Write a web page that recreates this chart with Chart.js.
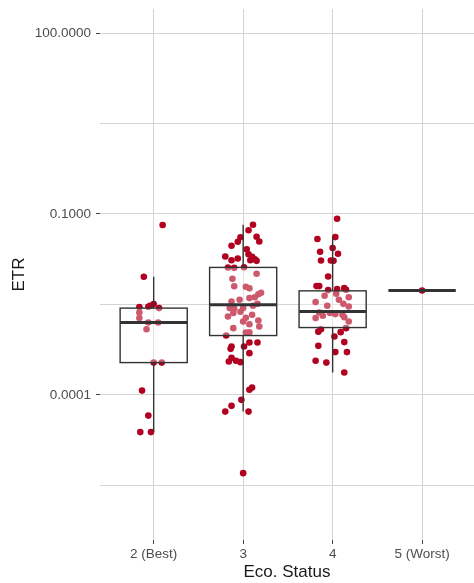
<!DOCTYPE html>
<html>
<head>
<meta charset="utf-8">
<script src="https://cdn.jsdelivr.net/npm/chart.js@4"></script>
<style>
  html, body { margin: 0; padding: 0; background: #fff; overflow: hidden; }
  #wrap { width: 474px; height: 583px; position: relative; }
  canvas { display: block; }
</style>
</head>
<body>
<div id="wrap"><canvas id="etrChart"></canvas></div>
<script>
// categories and axis ticks
const categories = ['2 (Best)', '3', '4', '5 (Worst)'];
const yMajorTicks = [100, 0.1, 0.0001];
const yMinorTicks = [3.162, 0.003162, 0.000003162];

// box stats
const q1 = [0.000344, 0.000966, 0.00131, 0.00538];
const median = [0.00159, 0.00312, 0.00242, 0.00538];
const q3 = [0.00275, 0.0130, 0.00532, 0.00538];
const whiskerLow = [0.0000242, 0.000053, 0.000235, 0.00538];
const whiskerHigh = [0.0091, 0.0662, 0.0414, 0.00538];

// jittered points: horizontal offset from category centre, ETR value
const bestJitter = [0.10, -0.11, 0.00, -0.16, -0.06, -0.04, 0.06, -0.16, -0.16, -0.06, 0.05, -0.08, 0.00, 0.09, -0.13, -0.06, -0.15, -0.03];
const bestEtr = [0.0655, 0.0091, 0.00321, 0.00286, 0.0029, 0.00301, 0.00275, 0.00233, 0.00188, 0.00159, 0.00159, 0.00123, 0.000344, 0.000344, 0.000118, 0.0000455, 0.0000242, 0.0000242];

const s3Jitter = [0.11, 0.06, -0.03, 0.15, 0.18, -0.06, -0.13, 0.04, 0.06, 0.10, 0.13, 0.08, 0.15, -0.20, -0.13, -0.06, -0.17, -0.10, 0.01,
  0.15, -0.12, -0.10, 0.03, 0.07, 0.17, 0.20, -0.13, -0.04, 0.07, 0.13, -0.15, -0.10, 0.00, 0.11, 0.16, -0.11, -0.17, 0.10, 0.00,
  0.07, 0.17, 0.18, -0.11, 0.03, 0.07, -0.19, -0.03, 0.03,
  -0.13, 0.16, 0.07, 0.01, -0.14, 0.07, -0.13, -0.16, -0.08, -0.03, 0.10, 0.07, -0.02, -0.13, -0.20, 0.06, 0.00];
const s3Etr = [0.0662, 0.0537, 0.0411, 0.0419, 0.0350, 0.0346, 0.0297, 0.0260, 0.0215, 0.0195, 0.0177, 0.0171, 0.0167, 0.0197, 0.0171, 0.0183, 0.0130, 0.0128, 0.0131,
  0.0102, 0.00841, 0.00632, 0.00621, 0.00586, 0.00466, 0.00493, 0.00354, 0.00378, 0.00403, 0.00416, 0.00275, 0.00268, 0.00275, 0.00301, 0.00324, 0.00228, 0.00200, 0.00213, 0.00165,
  0.00149, 0.00171, 0.00136, 0.00128, 0.00108, 0.00109, 0.000966, 0.00239, 0.00190,
  0.000635, 0.000740, 0.000740, 0.000635, 0.000581, 0.000493, 0.000412, 0.000358, 0.000368, 0.000350, 0.000133, 0.000122, 0.000083, 0.000066, 0.000053, 0.000053, 0.00000505];

const s4Jitter = [0.05, -0.17, 0.03, 0.00, -0.14, 0.06, -0.13, -0.02, 0.01, -0.05, -0.18, -0.15, -0.05, 0.05, 0.13, 0.15, -0.09, 0.04, 0.18, -0.19, 0.07, 0.12,
  0.18, -0.06, -0.15, -0.03, 0.03, 0.11, -0.19, -0.11, 0.13, 0.18, 0.15, -0.16, -0.13, 0.09, 0.02, 0.13, -0.16, 0.03, 0.16, -0.19, -0.07, 0.13];
const s4Etr = [0.0832, 0.0384, 0.0414, 0.0272, 0.0236, 0.0219, 0.0169, 0.0169, 0.0167, 0.0092, 0.00637, 0.00637, 0.00547, 0.00569, 0.00590, 0.00553, 0.00440, 0.00475, 0.00416, 0.00346, 0.00378, 0.00324,
  0.00292, 0.00301, 0.00233, 0.00228, 0.00219, 0.00213, 0.00188, 0.00205, 0.00194, 0.00165, 0.00128, 0.00112, 0.00123, 0.00110, 0.000929, 0.000752, 0.000652, 0.000513, 0.000513, 0.000368, 0.000344, 0.000235];

const worstJitter = [0.00];
const worstEtr = [0.00538];

const groupJitter = [bestJitter, s3Jitter, s4Jitter, worstJitter];
const groupEtr = [bestEtr, s3Etr, s4Etr, worstEtr];

const points = [];
groupEtr.forEach(function (vals, g) {
    vals.forEach(function (v, k) {
        points.push({ x: g + 1 + groupJitter[g][k], y: v });
    });
});

// boxplot drawn over the points, through the chart scales
const boxPlugin = {
    id: 'boxes',
    afterDatasetsDraw(chart) {
        const ctx = chart.ctx;
        const x = chart.scales.x, y = chart.scales.y;
        ctx.save();
        ctx.strokeStyle = '#333333';
        categories.forEach(function (c, i) {
            const cx = x.getPixelForValue(i + 1);
            const left = x.getPixelForValue(i + 1 - 0.375);
            const right = x.getPixelForValue(i + 1 + 0.375);
            const top = y.getPixelForValue(q3[i]);
            const bottom = y.getPixelForValue(q1[i]);
            ctx.lineWidth = 1.4;
            ctx.beginPath();
            ctx.moveTo(cx, y.getPixelForValue(whiskerHigh[i]));
            ctx.lineTo(cx, top);
            ctx.moveTo(cx, bottom);
            ctx.lineTo(cx, y.getPixelForValue(whiskerLow[i]));
            ctx.stroke();
            ctx.fillStyle = 'rgba(255,255,255,0.35)';
            ctx.fillRect(left, top, right - left, bottom - top);
            ctx.strokeRect(left, top, right - left, bottom - top);
            ctx.lineWidth = 3;
            const my = y.getPixelForValue(median[i]);
            ctx.beginPath();
            ctx.moveTo(left, my);
            ctx.lineTo(right, my);
            ctx.stroke();
        });
        ctx.restore();
    }
};

const gridGrey = '#d4d4d4';
const labelGrey = '#4d4d4d';
const font = 'Liberation Sans, Arial, Helvetica, sans-serif';

new Chart(document.getElementById('etrChart'), {
    type: 'scatter',
    data: {
        datasets: [{
            data: points,
            backgroundColor: 'rgb(178,0,32)',
            borderWidth: 0,
            pointRadius: 3.3
        }]
    },
    options: {
        responsive: true,
        maintainAspectRatio: false,
        animation: false,
        layout: { autoPadding: false, padding: { top: 9, left: 0, right: 0, bottom: 0 } },
        plugins: { legend: { display: false }, tooltip: { enabled: false } },
        scales: {
            x: {
                type: 'linear',
                min: 0.4,
                max: 4.58,
                afterBuildTicks: function (s) {
                    s.ticks = categories.map(function (c, i) { return { value: i + 1 }; });
                },
                afterFit: function (s) {
                    s.height = 43;
                    s.paddingLeft = 0;
                    s.paddingRight = 0;
                },
                ticks: {
                    autoSkip: false,
                    maxRotation: 0,
                    padding: 2,
                    color: labelGrey,
                    font: { family: font, size: 13.5 },
                    callback: function (v) { return categories[Math.round(v) - 1]; }
                },
                grid: { color: gridGrey, tickColor: '#444', tickLength: 4, lineWidth: 1 },
                border: { display: false },
                title: {
                    display: true,
                    text: 'Eco. Status',
                    color: '#1a1a1a',
                    font: { family: font, size: 17 },
                    padding: { top: 0, bottom: 0 }
                }
            },
            y: {
                type: 'logarithmic',
                min: 3.94e-7,
                max: 250,
                afterBuildTicks: function (s) {
                    s.ticks = yMajorTicks.concat(yMinorTicks).map(function (v) { return { value: v }; });
                },
                afterFit: function (s) {
                    s.width = 100;
                    s.paddingTop = 0;
                    s.paddingBottom = 0;
                },
                ticks: {
                    autoSkip: false,
                    padding: 5,
                    color: labelGrey,
                    font: { family: font, size: 13.5 },
                    callback: function (v) { return yMajorTicks.includes(v) ? v.toFixed(4) : ''; }
                },
                grid: {
                    color: gridGrey,
                    lineWidth: 1,
                    tickLength: 4,
                    tickColor: function (c) { return c.tick && yMajorTicks.includes(c.tick.value) ? '#444' : 'rgba(0,0,0,0)'; }
                },
                border: { display: false },
                title: {
                    display: true,
                    text: 'ETR',
                    color: '#1a1a1a',
                    font: { family: font, size: 17 },
                    padding: { top: 9, bottom: 0 }
                }
            }
        }
    },
    plugins: [boxPlugin]
});
</script>
</body>
</html>
